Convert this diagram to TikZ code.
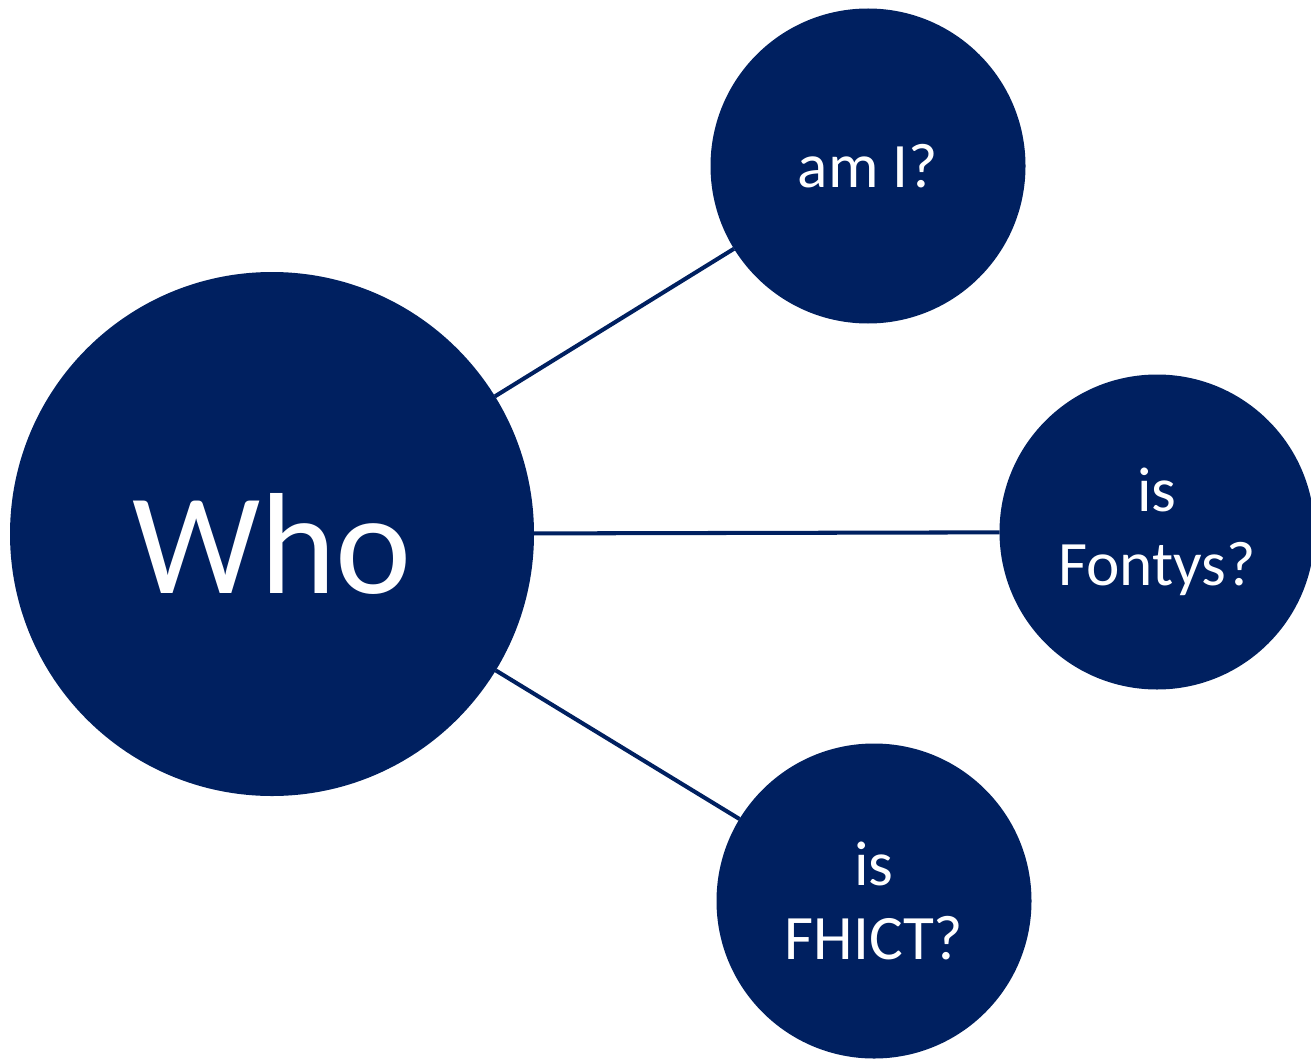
\documentclass[tikz,border=0pt]{standalone}
\usepackage{fontspec}
\setmainfont{Carlito}
\usepackage{xcolor}
\definecolor{fontysblue}{RGB}{0,32,96}
\usepackage{tikz}
\tikzstyle{bigbubble} = [circle, fill=fontysblue, draw=none, outer sep=0pt, minimum size=10.48cm, text=white, text height=2.36cm, text depth=0pt, font=\fontsize{82}{90}\selectfont]
\tikzstyle{bubble} = [circle, fill=fontysblue, draw=none, outer sep=0pt, minimum size=6.3cm, text=white, align=center, font=\fontsize{36}{42}\selectfont]
\tikzstyle{link} = [draw=fontysblue, line width=2.3pt]

\begin{document}
\begin{tikzpicture}

    \useasboundingbox (0,0) rectangle (26.22,-21.22);

    \node (who) [bigbubble] at (5.44,-10.68) {Who};

    \node (amI) [bubble] at (17.36,-3.32) {am I?};
    \node (fontys) [bubble] at (23.14,-10.64) {is\\Fontys?};
    \node (fhict) [bubble] at (17.48,-18.02) {is\\FHICT?};

    \draw[link] (who) -- (amI);
    \draw[link] (who) -- (fontys);
    \draw[link] (who) -- (fhict);

\end{tikzpicture}
\end{document}
